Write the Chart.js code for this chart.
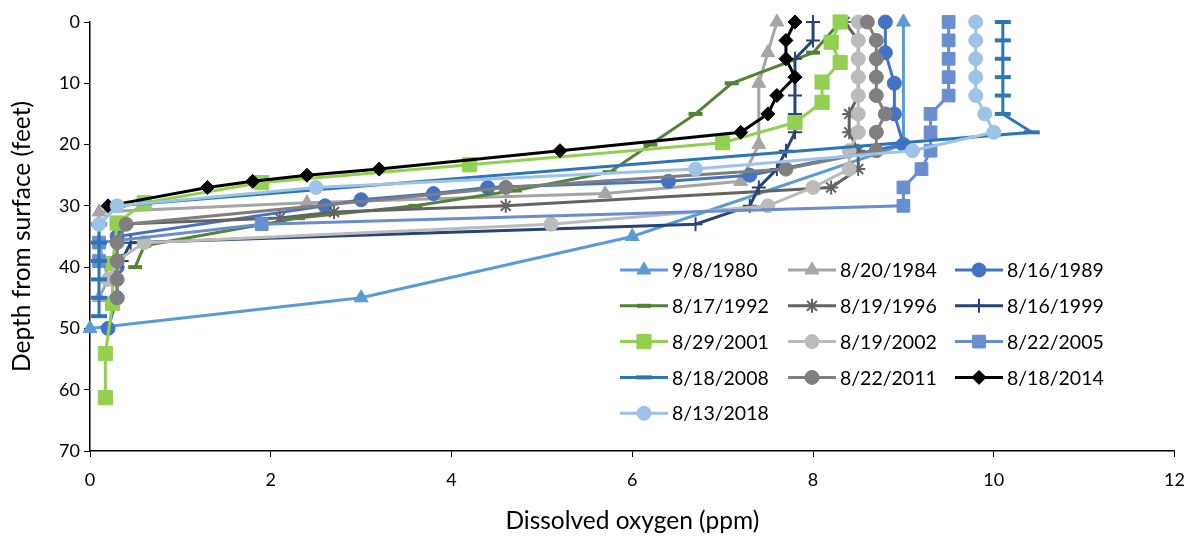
<!DOCTYPE html>
<html>
<head>
<meta charset="utf-8">
<script src="https://cdn.jsdelivr.net/npm/chart.js@4/dist/chart.umd.min.js"></script>
<style>
  html, body { margin: 0; padding: 0; background: #fff; }
  #wrap { width: 1197px; height: 536px; }
</style>
</head>
<body>
<div id="wrap"><canvas id="doChart" width="1197" height="536"></canvas></div>
<script>
// Series names (sampling dates)
const seriesLabels = ['9/8/1980', '8/20/1984', '8/16/1989', '8/17/1992', '8/19/1996', '8/16/1999',
  '8/29/2001', '8/19/2002', '8/22/2005', '8/18/2008', '8/22/2011', '8/18/2014', '8/13/2018'];

// Depth (feet) and dissolved oxygen (ppm) for each profile
const depth1980 = [0, 20, 35, 45, 50];
const oxygen1980 = [9.0, 9.0, 6.0, 3.0, 0.0];

const depth1984 = [0, 5, 10, 20, 26, 28, 29.5, 31, 36, 42, 45];
const oxygen1984 = [7.6, 7.5, 7.4, 7.4, 7.2, 5.7, 2.4, 0.1, 0.1, 0.2, 0.1];

const depth1989 = [0, 5, 10, 15, 20, 25, 26, 27, 28, 29, 30, 35, 40, 45, 50];
const oxygen1989 = [8.8, 8.8, 8.9, 8.9, 9.0, 7.3, 6.4, 4.4, 3.8, 3.0, 2.6, 0.3, 0.3, 0.3, 0.2];

const depth1992 = [0, 5, 10, 15, 20, 24.5, 27.5, 30, 32, 36.5, 40];
const oxygen1992 = [8.3, 8.0, 7.1, 6.7, 6.2, 5.75, 4.7, 3.6, 2.3, 0.6, 0.5];

const depth1996 = [0, 3, 6, 9, 12, 15, 18, 21, 24, 27, 30, 31, 32, 33];
const oxygen1996 = [8.35, 8.5, 8.5, 8.5, 8.5, 8.4, 8.4, 8.5, 8.5, 8.2, 4.6, 2.7, 2.1, 0.3];

const depth1999 = [0, 3, 6, 9, 12, 15, 18, 21, 24, 27, 30, 33, 36, 39];
const oxygen1999 = [8.0, 8.0, 7.8, 7.8, 7.8, 7.8, 7.8, 7.7, 7.6, 7.4, 7.3, 6.7, 0.45, 0.35];

const depth2001 = [0, 3.3, 6.6, 9.8, 13.1, 16.4, 19.7, 23.3, 26.2, 29.5, 32.8, 39.4, 45.9, 54.1, 61.3];
const oxygen2001 = [8.3, 8.2, 8.3, 8.1, 8.1, 7.8, 7.0, 4.2, 1.9, 0.6, 0.3, 0.25, 0.25, 0.17, 0.17];

const depth2002 = [0, 3, 6, 9, 12, 15, 18, 21, 24, 27, 30, 33, 36, 39, 42];
const oxygen2002 = [8.5, 8.5, 8.5, 8.5, 8.5, 8.5, 8.5, 8.4, 8.4, 8.0, 7.5, 5.1, 0.6, 0.3, 0.2];

const depth2005 = [0, 3, 6, 9, 12, 15, 18, 21, 24, 27, 30, 33, 36, 39];
const oxygen2005 = [9.5, 9.5, 9.5, 9.5, 9.5, 9.3, 9.3, 9.3, 9.2, 9.0, 9.0, 1.9, 0.1, 0.1];

const depth2008 = [0, 3, 6, 9, 12, 15, 18, 30, 33, 36, 39, 42, 45, 48];
const oxygen2008 = [10.1, 10.1, 10.1, 10.1, 10.1, 10.1, 10.42, 0.3, 0.1, 0.1, 0.1, 0.1, 0.1, 0.1];

const depth2011 = [0, 3, 6, 9, 12, 15, 18, 21, 24, 27, 33, 36, 39, 42, 45];
const oxygen2011 = [8.6, 8.7, 8.7, 8.7, 8.7, 8.8, 8.7, 8.7, 7.7, 4.6, 0.4, 0.3, 0.3, 0.3, 0.3];

const depth2014 = [0, 3, 6, 9, 12, 15, 18, 21, 24, 25, 26, 27, 30];
const oxygen2014 = [7.8, 7.7, 7.7, 7.8, 7.6, 7.5, 7.2, 5.2, 3.2, 2.4, 1.8, 1.3, 0.2];

const depth2018 = [0, 3, 6, 9, 12, 15, 18, 21, 24, 27, 30, 33];
const oxygen2018 = [9.8, 9.8, 9.8, 9.8, 9.8, 9.9, 10.0, 9.1, 6.7, 2.5, 0.3, 0.1];

// Axis ticks
const xTicks = [0, 2, 4, 6, 8, 10, 12];
const yTicks = [0, 10, 20, 30, 40, 50, 60, 70];

const depths = [depth1980, depth1984, depth1989, depth1992, depth1996, depth1999, depth2001,
  depth2002, depth2005, depth2008, depth2011, depth2014, depth2018];
const oxygens = [oxygen1980, oxygen1984, oxygen1989, oxygen1992, oxygen1996, oxygen1999, oxygen2001,
  oxygen2002, oxygen2005, oxygen2008, oxygen2011, oxygen2014, oxygen2018];

// Look of each series (colour, marker)
const styles = [
  { color: '#5B9BD5', pointStyle: 'triangle', radius: 8, bw: 1 },
  { color: '#A5A5A5', pointStyle: 'triangle', radius: 8, bw: 1 },
  { color: '#4472C4', pointStyle: 'circle', radius: 7, bw: 1 },
  { color: '#548235', pointStyle: 'line', radius: 7, bw: 4 },
  { color: '#636363', pointStyle: 'star', radius: 7, bw: 2 },
  { color: '#264478', pointStyle: 'cross', radius: 7, bw: 2 },
  { color: '#92D050', pointStyle: 'rect', radius: 10, bw: 1 },
  { color: '#BBBBBB', pointStyle: 'circle', radius: 7, bw: 1 },
  { color: '#698ED0', pointStyle: 'rect', radius: 9, bw: 1 },
  { color: '#2E75B6', pointStyle: 'line', radius: 8, bw: 4 },
  { color: '#7F7F7F', pointStyle: 'circle', radius: 7, bw: 1 },
  { color: '#000000', pointStyle: 'rectRot', radius: 7, bw: 1 },
  { color: '#9DC3E6', pointStyle: 'circle', radius: 7, bw: 1 }
];

const datasets = seriesLabels.map((label, i) => ({
  label: label,
  data: depths[i].map((d, k) => ({ x: oxygens[i][k], y: d })),
  borderColor: styles[i].color,
  backgroundColor: styles[i].color,
  borderWidth: 3,
  pointStyle: styles[i].pointStyle,
  pointRadius: styles[i].radius,
  pointBorderWidth: styles[i].bw,
  pointBackgroundColor: styles[i].color,
  pointBorderColor: styles[i].color,
  tension: 0,
  clip: false,
  order: seriesLabels.length - i // later series on top, like the original
}));

// Custom legend: 3 columns inside the plot area
const gridLegend = {
  id: 'gridLegend',
  afterDraw(chart) {
    const ctx = chart.ctx;
    const colX = [620, 788, 955];
    ctx.save();
    ctx.font = '19.5px Lato';
    ctx.textBaseline = 'middle';
    ctx.textAlign = 'left';
    seriesLabels.forEach((label, i) => {
      const s = styles[i];
      const x0 = colX[i % 3];
      const y = 270 + Math.floor(i / 3) * 35.8;
      ctx.strokeStyle = s.color;
      ctx.lineWidth = 3;
      ctx.beginPath();
      ctx.moveTo(x0, y);
      ctx.lineTo(x0 + 48, y);
      ctx.stroke();
      ctx.fillStyle = s.color;
      ctx.lineWidth = s.bw;
      Chart.helpers.drawPoint(ctx, { pointStyle: s.pointStyle, radius: s.radius, borderWidth: s.bw, rotation: 0 }, x0 + 24, y);
      ctx.fillStyle = '#000';
      ctx.fillText(label, x0 + 52, y + 1);
    });
    ctx.restore();
  }
};

const ctx = document.getElementById('doChart').getContext('2d');

new Chart(ctx, {
  type: 'line',
  data: { datasets: datasets },
  options: {
    responsive: false,
    animation: false,
    layout: { padding: { left: 0, top: 22, right: 22, bottom: 0 } },
    plugins: {
      legend: { display: false },
      tooltip: { enabled: false }
    },
    scales: {
      x: {
        type: 'linear',
        position: 'bottom',
        min: 0,
        max: 12,
        afterBuildTicks(scale) { scale.ticks = xTicks.map(v => ({ value: v })); },
        afterFit(scale) { scale.height = 85; },
        grid: { display: true, drawOnChartArea: false, drawTicks: true, tickLength: 6, color: '#000', lineWidth: 1 },
        border: { display: true, color: '#000', width: 1.5 },
        ticks: { color: '#000', font: { family: 'Lato', size: 18 }, padding: 12 },
        title: { display: true, text: 'Dissolved oxygen (ppm)', color: '#000', font: { family: 'Lato', size: 24.5 }, padding: { top: 2, bottom: 0 } }
      },
      y: {
        type: 'linear',
        reverse: true,
        min: 0,
        max: 70,
        afterBuildTicks(scale) { scale.ticks = yTicks.map(v => ({ value: v })); },
        afterFit(scale) { scale.width = 90; },
        grid: { display: true, drawOnChartArea: false, drawTicks: true, tickLength: 6, color: '#000', lineWidth: 1 },
        border: { display: true, color: '#000', width: 1.5 },
        ticks: { color: '#000', font: { family: 'Lato', size: 18 }, padding: 4 },
        title: { display: true, text: 'Depth from surface (feet)', color: '#000', font: { family: 'Lato', size: 24.5 }, padding: { top: 7, bottom: 0 } }
      }
    }
  },
  plugins: [gridLegend]
});
</script>
</body>
</html>
